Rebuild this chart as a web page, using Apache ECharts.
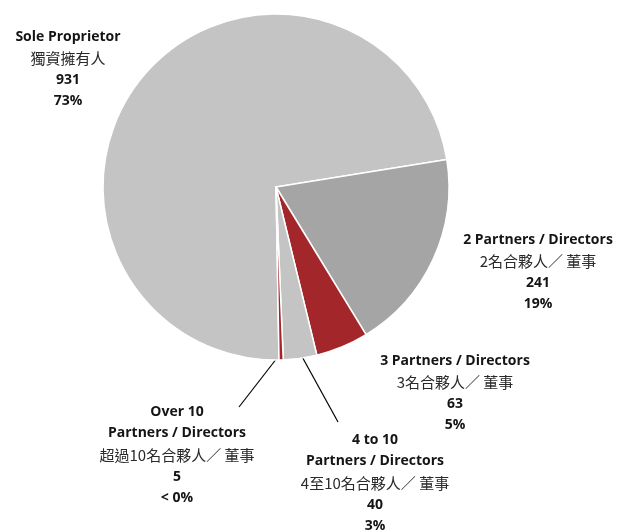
<!DOCTYPE html>
<html>
<head>
<meta charset="utf-8">
<script src="https://cdn.jsdelivr.net/npm/echarts@6/dist/echarts.min.js"></script>
<style>
  html, body { margin: 0; padding: 0; background: #ffffff; }
  #main { width: 621px; height: 532px; }
</style>
</head>
<body>
<div id="main"></div>
<script>
// Company structure by number of partners / directors
const namesEn = ['Sole Proprietor', '2 Partners / Directors', '3 Partners / Directors', '4 to 10\nPartners / Directors', 'Over 10\nPartners / Directors'];
const namesZh = ['獨資擁有人', '2名合夥人／ 董事', '3名合夥人／ 董事', '4至10名合夥人／ 董事', '超過10名合夥人／ 董事'];
const counts = [931, 241, 63, 40, 5];
const shareLabels = ['73%', '19%', '5%', '3%', '< 0%'];

// Layout and styling
const sliceColors = ['#c4c4c4', '#a5a5a5', '#a3262a', '#c4c4c4', '#a3262a'];
const pieCenter = [276, 187];
const pieRadius = 173;
const startAngle = 271;
// label block anchor (centre x, middle y)
const labelAnchors = [[68, 69], [538, 272], [455, 393], [375, 483], [177, 455]];
// end point of leader lines for the two thin slices
const leaderEnds = { 3: [338, 422], 4: [239, 407] };
const LINE_H = 21.6;

const total = counts.reduce((a, b) => a + b, 0);

function leaderStart(i) {
  let before = 0;
  for (let k = 0; k < i; k++) before += counts[k];
  const midDeg = startAngle - 360 * (before + counts[i] / 2) / total;
  const rad = midDeg * Math.PI / 180;
  const r = pieRadius * 0.96;
  return [pieCenter[0] + r * Math.cos(rad), pieCenter[1] - r * Math.sin(rad)];
}

const chart = echarts.init(document.getElementById('main'), null, { renderer: 'canvas' });

const data = counts.map((v, i) => ({
  value: v,
  name: namesEn[i],
  itemStyle: { color: sliceColors[i] },
  labelLine: { show: leaderEnds[i] !== undefined }
}));

chart.setOption({
  animation: false,
  backgroundColor: '#ffffff',
  series: [{
    type: 'pie',
    center: pieCenter,
    radius: pieRadius,
    startAngle: startAngle,
    clockwise: true,
    data: data,
    itemStyle: { borderColor: '#ffffff', borderWidth: 1.5 },
    emphasis: { disabled: true },
    label: {
      show: true,
      position: 'outside',
      overflow: 'none',
      alignTo: 'none',
      bleedMargin: 0,
      formatter: function (p) {
        const i = p.dataIndex;
        const en = namesEn[i].split('\n').map(s => '{en|' + s + '}');
        return en.concat(['{zh|' + namesZh[i] + '}', '{en|' + counts[i] + '}', '{en|' + shareLabels[i] + '}']).join('\n');
      },
      align: 'center',
      rich: {
        en: { fontFamily: 'Open Sans', fontWeight: 'bold', fontSize: 14, color: '#141414', lineHeight: LINE_H, align: 'center' },
        zh: { fontFamily: 'Noto Sans CJK TC', fontSize: 15, color: '#2a2a2a', lineHeight: LINE_H, align: 'center' }
      }
    },
    labelLine: {
      show: false,
      lineStyle: { color: '#000000', width: 1.2 }
    },
    labelLayout: function (params) {
      const i = params.dataIndex;
      const a = labelAnchors[i];
      const out = { x: a[0], y: a[1], align: 'center', verticalAlign: 'middle', hideOverlap: false, moveOverlap: false };
      if (leaderEnds[i]) {
        const s = leaderStart(i);
        const e = leaderEnds[i];
        out.labelLinePoints = [s, e, e];
      }
      return out;
    }
  }]
});
</script>
</body>
</html>
